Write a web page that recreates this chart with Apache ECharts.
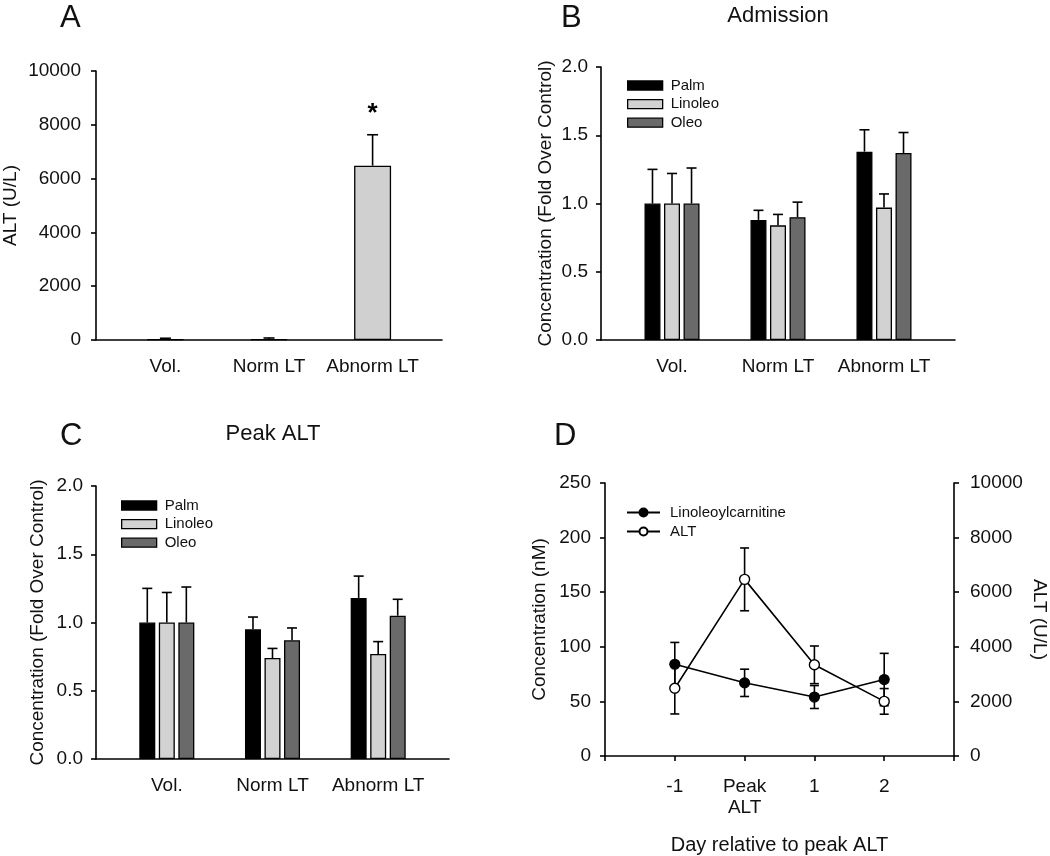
<!DOCTYPE html>
<html>
<head>
<meta charset="utf-8">
<script src="https://cdn.jsdelivr.net/npm/echarts@6/dist/echarts.min.js"></script>
<style>
  html, body { margin: 0; padding: 0; background: #fff; }
  #main { width: 1050px; height: 856px; }
</style>
</head>
<body>
<div id="main"></div>
<script>
// groups (panels A, B, C)
var groups = ['Vol.', 'Norm LT', 'Abnorm LT'];
var groupPos = [1, 2, 3];

// A - ALT (U/L)
var altMean = [25, 30, 6480];
var altErr = [40, 45, 1150];
var altSig = ['', '', '*'];

// B - Admission (fold over control)
var admPalm = [1.00, 0.88, 1.38];
var admPalmErr = [0.25, 0.07, 0.16];
var admLino = [1.00, 0.84, 0.97];
var admLinoErr = [0.22, 0.08, 0.10];
var admOleo = [1.00, 0.90, 1.37];
var admOleoErr = [0.26, 0.11, 0.15];

// C - Peak ALT (fold over control)
var pkPalm = [1.00, 0.95, 1.18];
var pkPalmErr = [0.25, 0.09, 0.16];
var pkLino = [1.00, 0.74, 0.77];
var pkLinoErr = [0.22, 0.07, 0.09];
var pkOleo = [1.00, 0.87, 1.05];
var pkOleoErr = [0.26, 0.09, 0.12];

// D - time course
var dayTicks = ['', '-1', 'Peak\nALT', '1', '2', ''];
var dayPos = [1, 2, 3, 4];
var linoCarn = [84, 67, 54, 70];
var linoCarnErr = [20, 12.5, 10.5, 24];
var altDay = [2480, 6470, 3340, 2000];
var altDayErr = [940, 1150, 690, 470];

var FONT = '"Liberation Sans", Arial, sans-serif';
var INK = '#111';

function pairs(xs, ys) {
    return xs.map(function (x, i) { return [x, ys[i]]; });
}
function triples(xs, ys, es) {
    return xs.map(function (x, i) { return [x, ys[i], es[i]]; });
}

// error bar drawer: offset in px (grouped bars), cap half width, both sides or only up
function errRender(offset, cap, both, sig) {
    return function (params, api) {
        var x = api.value(0), y = api.value(1), e = api.value(2);
        var p0 = api.coord([x, y]);
        var pUp = api.coord([x, y + e]);
        var px = p0[0] + offset;
        var st = { stroke: '#000', lineWidth: 1.6 };
        var kids = [
            { type: 'line', shape: { x1: px, y1: p0[1], x2: px, y2: pUp[1] }, style: st },
            { type: 'line', shape: { x1: px - cap, y1: pUp[1], x2: px + cap, y2: pUp[1] }, style: st }
        ];
        if (both) {
            var pDn = api.coord([x, y - e]);
            kids.push({ type: 'line', shape: { x1: px, y1: p0[1], x2: px, y2: pDn[1] }, style: st });
            kids.push({ type: 'line', shape: { x1: px - cap, y1: pDn[1], x2: px + cap, y2: pDn[1] }, style: st });
        }
        if (sig && sig[params.dataIndex]) {
            kids.push({ type: 'text', x: px, y: pUp[1] - 21, style: {
                text: sig[params.dataIndex], fontSize: 26, fontWeight: 'bold', fontFamily: FONT,
                align: 'center', verticalAlign: 'middle', fill: '#000' } });
        }
        return { type: 'group', children: kids };
    };
}

function errSeries(xi, yi, data, offset, cap, both, sig, z) {
    return {
        type: 'custom', xAxisIndex: xi, yAxisIndex: yi,
        renderItem: errRender(offset, cap, both, sig),
        encode: { x: 0, y: 1 }, data: data, z: z || 3, silent: true
    };
}

var axisLine = { show: true, lineStyle: { color: '#000', width: 1.6 } };
var tickOut = { show: true, inside: false, length: 5, lineStyle: { color: '#000', width: 1.6 } };

function groupX(idx) {
    return {
        type: 'value', gridIndex: idx, min: 0.33, max: 3.67,
        axisLine: axisLine, axisTick: { show: false }, splitLine: { show: false },
        axisLabel: {
            customValues: groupPos, margin: 17, fontSize: 19, color: INK, fontFamily: FONT,
            formatter: function (v) { return groups[Math.round(v) - 1] || ''; }
        }
    };
}
function foldY(idx, gap) {
    return {
        type: 'value', gridIndex: idx, min: 0, max: 2, interval: 0.5,
        name: 'Concentration (Fold Over Control)', nameLocation: 'middle', nameGap: gap,
        nameTextStyle: { fontSize: 19, color: INK, fontFamily: FONT },
        axisLine: axisLine, axisTick: tickOut, splitLine: { show: false },
        axisLabel: { margin: 13, fontSize: 19, color: INK, fontFamily: FONT,
            formatter: function (v) { return v.toFixed(1); } }
    };
}

var barColors = ['#000000', '#d2d2d2', '#6a6a6a'];
var barNames = ['Palm', 'Linoleo', 'Oleo'];
var BW = 16, PITCH = 16 * 1.22;

function groupBars(xi, yi, vals) {
    return vals.map(function (v, k) {
        return {
            type: 'bar', name: barNames[k], xAxisIndex: xi, yAxisIndex: yi,
            data: pairs(groupPos, v), barWidth: BW, barGap: '22%',
            itemStyle: { color: barColors[k], borderColor: '#000', borderWidth: 1.3 }, z: 2
        };
    });
}

var chart = echarts.init(document.getElementById('main'), null, { renderer: 'canvas' });

var series = [];
// A
series.push({
    type: 'bar', name: 'ALT U/L', xAxisIndex: 0, yAxisIndex: 0,
    data: pairs(groupPos, altMean), barWidth: 37,
    itemStyle: { color: '#d0d0d0', borderColor: '#000', borderWidth: 1.3 }, z: 2
});
series.push(errSeries(0, 0, triples(groupPos, altMean, altErr), 0, 5.5, false, altSig));
// B
series = series.concat(groupBars(1, 1, [admPalm, admLino, admOleo]));
series.push(errSeries(1, 1, triples(groupPos, admPalm, admPalmErr), -PITCH, 5, false));
series.push(errSeries(1, 1, triples(groupPos, admLino, admLinoErr), 0, 5, false));
series.push(errSeries(1, 1, triples(groupPos, admOleo, admOleoErr), PITCH, 5, false));
// C
series = series.concat(groupBars(2, 2, [pkPalm, pkLino, pkOleo]));
series.push(errSeries(2, 2, triples(groupPos, pkPalm, pkPalmErr), -PITCH, 5, false));
series.push(errSeries(2, 2, triples(groupPos, pkLino, pkLinoErr), 0, 5, false));
series.push(errSeries(2, 2, triples(groupPos, pkOleo, pkOleoErr), PITCH, 5, false));
// D
series.push(errSeries(3, 3, triples(dayPos, linoCarn, linoCarnErr), 0, 4.5, true, null, 1));
series.push(errSeries(3, 4, triples(dayPos, altDay, altDayErr), 0, 4.5, true, null, 1));
series.push({
    type: 'line', name: 'Linoleoylcarnitine', xAxisIndex: 3, yAxisIndex: 3,
    data: pairs(dayPos, linoCarn), symbol: 'circle', symbolSize: 10,
    lineStyle: { color: '#000', width: 1.6 },
    itemStyle: { color: '#000', borderColor: '#000', borderWidth: 1.2 }, z: 4
});
series.push({
    type: 'line', name: 'ALT', xAxisIndex: 3, yAxisIndex: 4,
    data: pairs(dayPos, altDay), symbol: 'circle', symbolSize: 10,
    lineStyle: { color: '#000', width: 1.6 },
    itemStyle: { color: '#fff', borderColor: '#000', borderWidth: 1.4 }, z: 4
});

function panelTitle(text, x, y, size, center) {
    return {
        text: text, left: x, top: y, padding: 0, textAlign: center ? 'center' : 'left',
        textStyle: { fontSize: size, fontWeight: 'normal', color: INK, fontFamily: FONT }
    };
}

var barLegend = function (x, y) {
    return {
        data: barNames, left: x, top: y, orient: 'vertical', padding: 0,
        itemWidth: 35, itemHeight: 9, itemGap: 3.6, icon: 'rect',
        itemStyle: { borderColor: '#000', borderWidth: 1.3 },
        textStyle: { fontSize: 15, color: INK, fontFamily: FONT, padding: [0, 0, 0, 3] },
        selectedMode: false
    };
};

var option = {
    animation: false,
    backgroundColor: '#fff',
    textStyle: { fontFamily: FONT },
    title: [
        panelTitle('A', 60, 3, 31),
        panelTitle('B', 561, 3, 31),
        panelTitle('C', 60, 421, 31),
        panelTitle('D', 554, 421, 31),
        panelTitle('Admission', 778, 5, 22, true),
        panelTitle('Peak ALT', 273, 423, 22, true)
    ],
    legend: [
        barLegend(627, 78),
        barLegend(121, 498),
        {
            data: ['Linoleoylcarnitine', 'ALT'], left: 626, top: 505, orient: 'vertical', padding: 0,
            itemWidth: 33, itemHeight: 10, itemGap: 4, selectedMode: false,
            textStyle: { fontSize: 15, color: INK, fontFamily: FONT, padding: [0, 0, 0, 5] }
        }
    ],
    grid: [
        { left: 96, top: 71, width: 346, height: 269 },
        { left: 601, top: 67, width: 354, height: 273 },
        { left: 96, top: 486, width: 353, height: 273 },
        { left: 605, top: 483, width: 352.5, height: 274 }
    ],
    xAxis: [
        groupX(0),
        groupX(1),
        groupX(2),
        {
            type: 'value', gridIndex: 3, min: 0, max: 5, interval: 1,
            name: 'Day relative to peak ALT', nameLocation: 'middle', nameGap: 79,
            nameTextStyle: { fontSize: 20, color: INK, fontFamily: FONT },
            axisLine: axisLine, axisTick: tickOut, splitLine: { show: false },
            axisLabel: { margin: 20, fontSize: 19, lineHeight: 21, color: INK, fontFamily: FONT,
                showMinLabel: true, showMaxLabel: true,
                formatter: function (v) { return dayTicks[Math.round(v)] || ''; } }
        }
    ],
    yAxis: [
        {
            type: 'value', gridIndex: 0, min: 0, max: 10000, interval: 2000,
            name: 'ALT (U/L)', nameLocation: 'middle', nameGap: 76,
            nameTextStyle: { fontSize: 19, color: INK, fontFamily: FONT },
            axisLine: axisLine, axisTick: tickOut, splitLine: { show: false },
            axisLabel: { margin: 15, fontSize: 19, color: INK, fontFamily: FONT,
                formatter: function (v) { return String(v); } }
        },
        foldY(1, 46),
        foldY(2, 49),
        {
            type: 'value', gridIndex: 3, min: 0, max: 250, interval: 50,
            name: 'Concentration (nM)', nameLocation: 'middle', nameGap: 56,
            nameTextStyle: { fontSize: 19, color: INK, fontFamily: FONT },
            axisLine: axisLine, axisTick: tickOut, splitLine: { show: false },
            axisLabel: { margin: 14, fontSize: 19, color: INK, fontFamily: FONT,
                formatter: function (v) { return String(v); } }
        },
        {
            type: 'value', gridIndex: 3, position: 'right', min: 0, max: 10000, interval: 2000,
            name: 'ALT (U/L)', nameLocation: 'middle', nameGap: 76, nameRotate: -90,
            nameTextStyle: { fontSize: 19, color: INK, fontFamily: FONT },
            axisLine: axisLine, axisTick: tickOut, splitLine: { show: false },
            axisLabel: { margin: 16, fontSize: 19, color: INK, fontFamily: FONT,
                formatter: function (v) { return String(v); } }
        }
    ],
    series: series
};

chart.setOption(option);
</script>
</body>
</html>
